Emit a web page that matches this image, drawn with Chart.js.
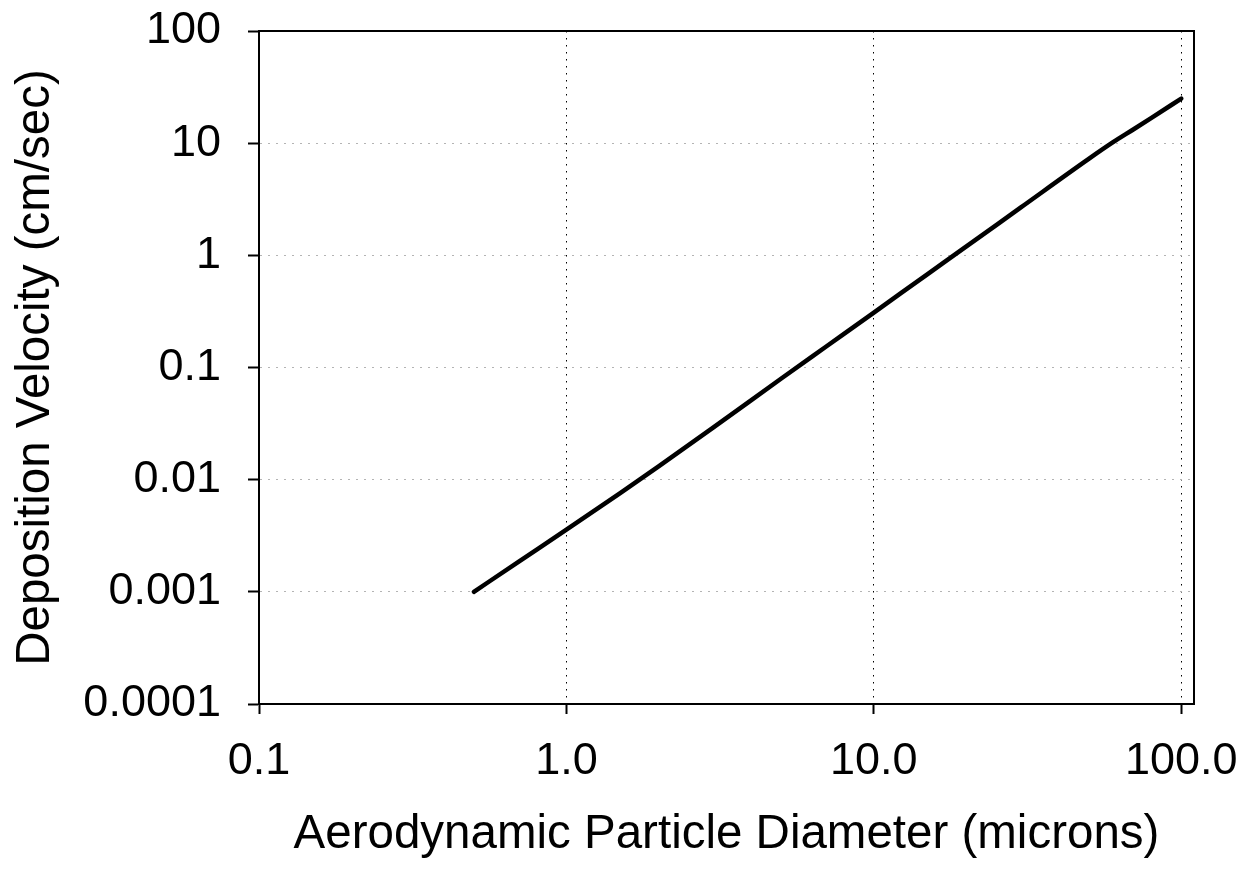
<!DOCTYPE html>
<html>
<head>
<meta charset="utf-8">
<title>Deposition Velocity</title>
<script src="https://cdn.jsdelivr.net/npm/chart.js@4/dist/chart.umd.min.js"></script>
<style>
    html, body { margin: 0; padding: 0; background: #fff; }
    #chart { display: block; }
</style>
</head>
<body>
<canvas id="chart" width="1250" height="871"></canvas>
<script>
// particle size (microns) and deposition velocity (cm/sec)
const diameters = [0.5, 0.7, 1, 1.5, 2, 3, 5, 7, 10, 15, 20, 30, 50, 60, 70, 80, 100];
const velocities = [0.001, 0.00186, 0.00358, 0.00764, 0.0132, 0.0291, 0.0798, 0.154, 0.309, 0.684, 1.2, 2.66, 7.24, 10.2, 13.3, 16.8, 25];

const xTicks = [0.1, 1, 10, 100];
const xLabels = ['0.1', '1.0', '10.0', '100.0'];
const yTicks = [0.0001, 0.001, 0.01, 0.1, 1, 10, 100];
const yLabels = ['0.0001', '0.001', '0.01', '0.1', '1', '10', '100'];

const FONT = "'Liberation Sans', Arial, sans-serif";

// box around the plot area like the Excel plot frame
const frame = {
    id: 'frame',
    afterDraw(chart) {
        const a = chart.chartArea;
        const ctx = chart.ctx;
        ctx.save();
        ctx.strokeStyle = '#000';
        ctx.lineWidth = 2;
        ctx.strokeRect(a.left, a.top, a.right - a.left, a.bottom - a.top);
        ctx.restore();
    }
};

new Chart(document.getElementById('chart'), {
    type: 'line',
    data: {
        datasets: [{
            data: diameters.map((d, i) => ({ x: d, y: velocities[i] })),
            borderColor: '#000',
            borderWidth: 4.5,
            borderCapStyle: 'round',
            pointRadius: 0,
            cubicInterpolationMode: 'monotone',
            fill: false
        }]
    },
    options: {
        responsive: false,
        animation: false,
        devicePixelRatio: 1,
        layout: { padding: { top: 31, right: 56, left: 0, bottom: 0 } },
        plugins: {
            legend: { display: false },
            tooltip: { enabled: false }
        },
        scales: {
            x: {
                type: 'logarithmic',
                min: 0.1,
                max: 110,
                afterBuildTicks: s => { s.ticks = xTicks.map(v => ({ value: v })); },
                afterFit: s => { s.height = 167; s.paddingLeft = 0; s.paddingRight = 0; },
                ticks: {
                    autoSkip: false,
                    maxRotation: 0,
                    padding: 21,
                    color: '#000',
                    font: { family: FONT, size: 45 },
                    callback: (v, i) => xLabels[i]
                },
                grid: {
                    color: '#000',
                    lineWidth: 1,
                    tickLength: 10,
                    tickColor: '#000',
                    tickWidth: 2,
                    tickBorderDash: []
                },
                border: { color: '#000', width: 2, dash: [1.5, 5.5] },
                title: {
                    display: true,
                    text: 'Aerodynamic Particle Diameter (microns)',
                    color: '#000',
                    font: { family: FONT, size: 47.5 },
                    padding: { top: 8, bottom: 8 }
                }
            },
            y: {
                type: 'logarithmic',
                min: 0.0001,
                max: 100,
                afterBuildTicks: s => { s.ticks = yTicks.map(v => ({ value: v })); },
                afterFit: s => { s.width = 259; s.paddingTop = 0; s.paddingBottom = 0; },
                ticks: {
                    autoSkip: false,
                    padding: 27,
                    color: '#000',
                    font: { family: FONT, size: 45 },
                    callback: (v, i) => yLabels[i]
                },
                grid: {
                    color: '#b4b4b4',
                    lineWidth: 1,
                    tickLength: 11,
                    tickColor: '#000',
                    tickWidth: 2,
                    tickBorderDash: []
                },
                border: { color: '#000', width: 2, dash: [2, 6] },
                title: {
                    display: true,
                    text: 'Deposition Velocity (cm/sec)',
                    color: '#000',
                    font: { family: FONT, size: 47.5 },
                    padding: { top: 7, bottom: 7 }
                }
            }
        }
    },
    plugins: [frame]
});
</script>
</body>
</html>
